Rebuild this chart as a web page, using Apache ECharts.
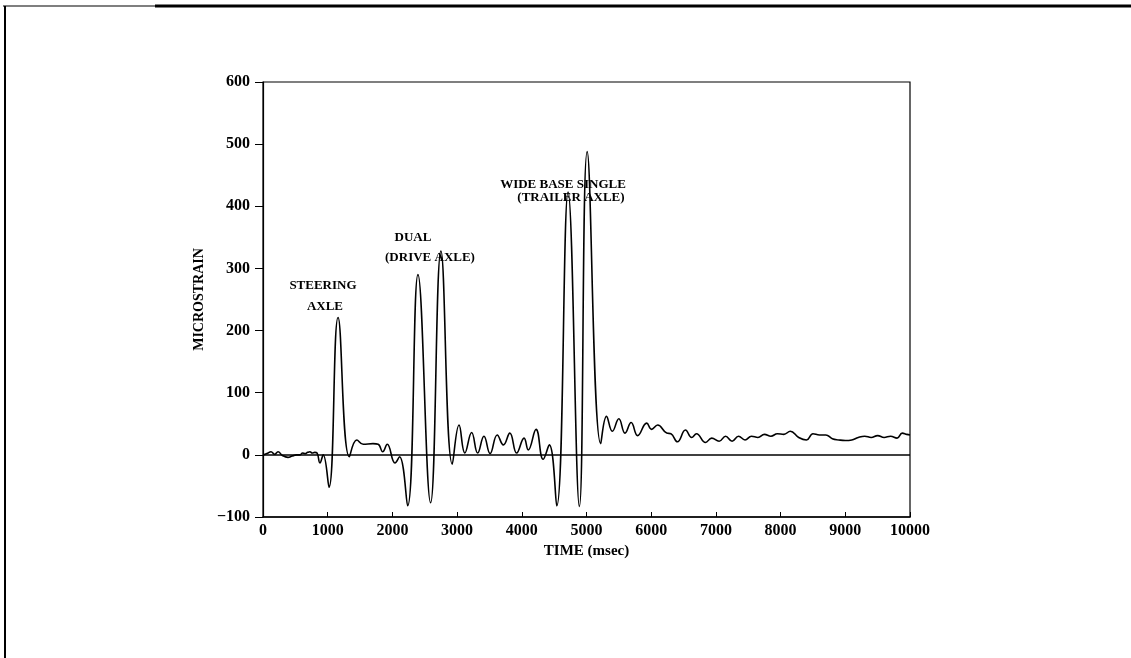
<!DOCTYPE html>
<html>
<head>
<meta charset="utf-8">
<script src="https://cdn.jsdelivr.net/npm/echarts@6/dist/echarts.min.js"></script>
<style>
html,body{margin:0;padding:0;background:#fff;}
#c{width:1131px;height:658px;}
</style>
</head>
<body>
<div id="c"></div>
<script>
// time (msec) of sampled points
const timeMs = [0,60,124,180,232,300,386,450,520,572,612,650,690,726,760,800,835,880,930,1020,
  1160,1335,1450,1550,1700,1780,1850,1920,2040,2110,2235,2395,2590,2750,2926,3030,3120,3225,3318,3415,
  3510,3620,3715,3815,3920,4035,4100,4220,4330,4425,4540,4715,4890,5010,5220,5310,5400,5500,5595,5690,
  5790,5930,6005,6100,6240,6305,6405,6530,6625,6700,6840,6935,7050,7150,7250,7350,7450,7550,7650,7750,
  7850,7950,8050,8150,8280,8400,8500,8600,8700,8800,8900,9000,9100,9200,9300,9400,9500,9600,9700,9800,
  9880,9950,10000];
// microstrain at those times
const strain = [0,2,5,1,5,-1,-4,-2,0,0,3,2,4,5,3,4,3,-13,0,-52,
  221,-3,24,17,18,17,5,17,-13,-3,-82,290,-77,328,-15,48,3,36,3,30,
  2,32,16,35,3,27,8,41,-7,16,-82,423,-83,488,18,62,38,58,35,52,
  31,51,41,48,35,34,21,40,28,34,20,27,22,30,22,30,24,30,28,33,
  30,34,33,38,28,24,34,32,32,26,24,23,24,28,30,28,31,28,30,27,
  35,33,32];
const xTicks = {min:0, max:10000, step:1000};
const yTicks = {min:-100, max:600, step:100};
const notes = [
  {text:'STEERING', t:927, v:273},
  {text:'AXLE', t:958, v:239},
  {text:'DUAL', t:2318, v:350},
  {text:'(DRIVE AXLE)', t:2581, v:317},
  {text:'WIDE BASE SINGLE', t:4637, v:435},
  {text:'(TRAILER AXLE)', t:4760, v:414}
];

const serif = '"Liberation Serif", "DejaVu Serif", serif';
const fmt = v => (v < 0 ? '\u2212' + Math.abs(v) : String(v));
const chart = echarts.init(document.getElementById('c'), null, {renderer:'canvas'});
chart.setOption({
  animation:false,
  backgroundColor:'#fff',
  grid:{left:263, right:221, top:82, bottom:141, show:true, borderColor:'#000', borderWidth:1.2},
  xAxis:{
    type:'value', min:xTicks.min, max:xTicks.max, interval:xTicks.step,
    name:'TIME (msec)', nameLocation:'middle', nameGap:27,
    nameTextStyle:{fontFamily:serif, fontSize:15, color:'#000', fontWeight:'bold'},
    axisLine:{show:true, onZero:false, lineStyle:{color:'#000', width:1.5}},
    axisTick:{show:true, inside:true, length:5, lineStyle:{color:'#000'}},
    axisLabel:{fontFamily:serif, fontSize:16, fontWeight:'bold', color:'#000', margin:6, formatter:fmt},
    splitLine:{show:false}
  },
  yAxis:{
    type:'value', min:yTicks.min, max:yTicks.max, interval:yTicks.step,
    name:'MICROSTRAIN', nameLocation:'middle', nameGap:50, nameRotate:90,
    nameTextStyle:{fontFamily:serif, fontSize:14, color:'#000', fontWeight:'bold'},
    axisLine:{show:true, onZero:false, lineStyle:{color:'#000', width:1.2}},
    axisTick:{show:true, inside:false, length:8, lineStyle:{color:'#000'}},
    axisLabel:{fontFamily:serif, fontSize:16, fontWeight:'bold', color:'#000', margin:13, formatter:fmt},
    splitLine:{show:false}
  },
  series:[{
    type:'line',
    data: timeMs.map((t,i)=>[t, strain[i]]),
    smooth:0.45,
    showSymbol:false,
    lineStyle:{color:'#000', width:1.6},
    markLine:{
      silent:true, symbol:'none', label:{show:false},
      lineStyle:{color:'#000', width:1.5, type:'solid'},
      data:[{yAxis:0}]
    },
    markPoint:{
      symbol:'circle', symbolSize:0, silent:true,
      label:{show:true, position:'inside', color:'#000', fontFamily:serif, fontSize:13, fontWeight:'bold',
        formatter:p=>p.name},
      data: notes.map(n=>({name:n.text, coord:[n.t, n.v]}))
    }
  }],
  graphic:[
    {type:'line', shape:{x1:3, y1:6, x2:155, y2:6}, style:{stroke:'#555', lineWidth:1.5}},
    {type:'line', shape:{x1:155, y1:6, x2:1131, y2:6}, style:{stroke:'#000', lineWidth:3}},
    {type:'line', shape:{x1:5, y1:6, x2:5, y2:658}, style:{stroke:'#000', lineWidth:2}}
  ]
});
</script>
</body>
</html>
